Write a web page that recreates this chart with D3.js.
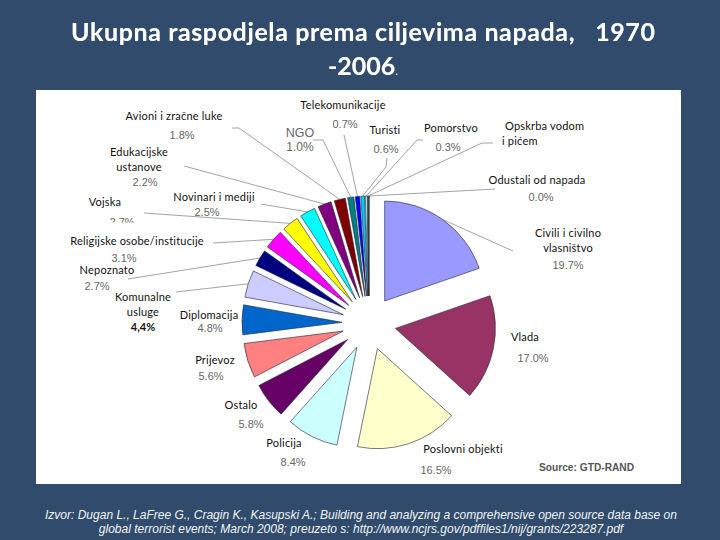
<!DOCTYPE html>
<html><head><meta charset="utf-8">
<script src="https://cdn.jsdelivr.net/npm/d3@7"></script>
<style>html,body{margin:0;padding:0;background:#304b6b}svg{display:block}text{white-space:pre}</style>
</head><body><svg id="c" width="720" height="540"></svg>
<script>
const categories=[["Civili i civilno","vlasništvo"],["Vlada"],["Poslovni objekti"],["Policija"],["Ostalo"],["Prijevoz"],["Diplomacija"],["Komunalne","usluge"],["Nepoznato"],["Religijske osobe/institucije"],["Vojska"],["Novinari i mediji"],["Edukacijske","ustanove"],["Avioni i zračne luke"],["NGO"],["Telekomunikacije"],["Turisti"],["Pomorstvo"],["Opskrba vodom","i pićem"],["Odustali od napada"]];
const values=[19.7,17.0,16.5,8.4,5.8,5.6,4.8,4.4,2.7,3.1,2.7,2.5,2.2,1.8,1.0,0.7,0.6,0.3,0.2,0.0];
const percentLabels=["19.7%","17.0%","16.5%","8.4%","5.8%","5.6%","4.8%","4,4%","2.7%","3.1%","2.7%","2.5%","2.2%","1.8%","1.0%","0.7%","0.6%","0.3%","","0.0%"];
const colors=["#9999ff","#993366","#ffffcc","#ccffff","#660066","#ff8080","#0066cc","#ccccff","#000080","#ff00ff","#ffff00","#00ffff","#800080","#800000","#008080","#0000ff","#00ccff","#ccffff","#339999","#000000"];
const titleLines=["Ukupna raspodjela prema ciljevima napada,   1970","-2006"];
const sourceLines=["Izvor: Dugan L., LaFree G., Cragin K., Kasupski A.; Building and analyzing a comprehensive open source data base on","global terrorist events; March 2008; preuzeto s: http://www.ncjrs.gov/pdffiles1/nij/grants/223287.pdf"];
const creditText="Source: GTD-RAND";
// label layout: name anchor [x, first baseline], percent anchor [x, baseline], leader elbows
const layout=[
 {n:[568,237],p:[568,269],l:[[513,251]]},
 {n:[525,341],p:[533,362],l:[]},
 {n:[463,453],p:[436,474],l:[]},
 {n:[284,447],p:[293,466],l:[]},
 {n:[241,409],p:[251,428],l:[]},
 {n:[215,364],p:[211,380],l:[]},
 {n:[209,319],p:[210,332],l:[]},
 {n:[143,301],p:[143,331],l:[[176,292]],b:1},
 {n:[107,274],p:[97,290],l:[[128,279]]},
 {n:[137,245],p:[124,262],l:[[213,243]]},
 {n:[105,206],p:[122,226],l:[[144,213]],cut:[105,222.5,36,8]},
 {n:[214,201],p:[207,216],l:[[261,204]]},
 {n:[139,156],p:[145,186],l:[[184,166]]},
 {n:[174,120],p:[182,139],l:[[232,128],[239,128]]},
 {n:[300,137],p:[300,151],l:[[313,140],[323,140]],gray:1},
 {n:[343,109],p:[345,128],l:[[344,135]]},
 {n:[385,134],p:[386,153],l:[[387,158],[386,167]]},
 {n:[451,132],p:[448,151],l:[[423,140],[417,140]]},
 {n:[505,130],p:[0,0],l:[[493,143],[482,143]],start:[505,502]},
 {n:[537,184],p:[541,201],l:[[495,189]]}
];
const W=720,H=540,cx=369,cy=323,R=100,explode=27;
const svg=d3.select("#c");
svg.append("rect").attr("width",W).attr("height",H).attr("fill","#304b6b");
svg.append("rect").attr("x",36).attr("y",90).attr("width",645).attr("height",394).attr("fill","#fff");

// title
const title=svg.append("g").attr("font-family","Lato, sans-serif").attr("font-weight",700).attr("font-size",25)
  .attr("fill","#fff").style("filter","drop-shadow(0.8px 0.8px 0 #8d99a8)");
title.append("text").attr("x",71).attr("y",41).attr("textLength",584).attr("lengthAdjust","spacing").text(titleLines[0]);
const t2=title.append("text").attr("x",328).attr("y",75);
t2.append("tspan").text(titleLines[1]);
t2.append("tspan").attr("font-size",12).attr("font-weight",400).attr("fill","#cfd8e3").text(".");

// footer
sourceLines.forEach((t,i)=>{
  svg.append("text").attr("x",361).attr("y",[519,533][i]).attr("text-anchor","middle")
   .attr("font-family","'Liberation Sans',Arial,sans-serif").attr("font-style","italic").attr("font-size",12)
   .attr("fill","#f2f4f7").text(t);
});
svg.append("text").attr("x",539).attr("y",471).attr("font-family","'Liberation Sans',Arial,sans-serif")
  .attr("font-weight",700).attr("font-size",10.2).attr("fill","#555").text(creditText);

// pie
const pie=d3.pie().sort(null).value(d=>d).startAngle(0).endAngle(2*Math.PI);
const arcs=pie(values);
const arc=d3.arc().innerRadius(0).outerRadius(R);
const dir=d=>{const m=(d.startAngle+d.endAngle)/2;return [Math.sin(m),-Math.cos(m)];};
const off=d=>{const v=dir(d);return [cx+explode*v[0],cy+explode*v[1]];};

// leaders
const line=d3.line();
svg.append("g").attr("fill","none").attr("stroke","#8c8c8c").attr("stroke-width",0.8)
 .selectAll("path").data(arcs.filter((d,i)=>layout[i].l.length)).join("path")
 .attr("d",d=>{const v=dir(d),o=off(d);const pts=layout[d.index].l.concat([[o[0]+R*v[0],o[1]+R*v[1]]]);return line(pts);});

// slices
svg.append("g").selectAll("path").data(arcs).join("path")
 .attr("transform",d=>{const o=off(d);return `translate(${o[0]},${o[1]})`;})
 .attr("d",arc).attr("fill",(d,i)=>colors[i]).attr("stroke","#1d2233").attr("stroke-width",0.6).attr("stroke-linejoin","round");

// labels
const lab=svg.append("g");
categories.forEach((lines,i)=>{
  const L=layout[i];
  if(percentLabels[i]){
    lab.append("text").attr("x",L.p[0]).attr("y",L.p[1]).attr("text-anchor","middle")
     .attr("font-family",L.b?"Lato, sans-serif":"'Liberation Sans',Arial,sans-serif")
     .attr("font-weight",L.b?700:400).attr("font-size",L.gray?12:11)
     .attr("fill",L.b?"#111":"#666").text(percentLabels[i]);
  }
  if(L.cut) lab.append("rect").attr("x",L.cut[0]).attr("y",L.cut[1]).attr("width",L.cut[2]).attr("height",L.cut[3]).attr("fill","#fff");
  lines.forEach((t,j)=>{
    lab.append("text").attr("x",L.start?L.start[j]:L.n[0]).attr("y",L.n[1]+j*14.5)
     .attr("text-anchor",L.start?"start":"middle")
     .attr("font-family",L.gray?"'Liberation Sans',Arial,sans-serif":"Lato, sans-serif").attr("font-size",L.gray?12.5:11)
     .attr("letter-spacing",L.gray?0:0.2).attr("fill",L.gray?"#667":"#111").text(t);
  });
});
</script></body></html>
